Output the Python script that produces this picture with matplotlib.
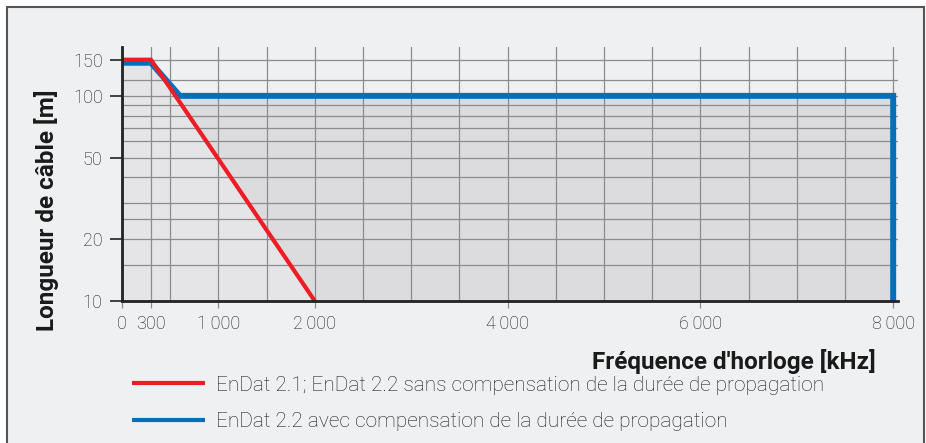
import numpy as np
import matplotlib
matplotlib.use('Agg')
from matplotlib import pyplot as plt
from matplotlib import ticker
from matplotlib.patches import Rectangle

plt.rcParams['font.family'] = ['Roboto', 'DejaVu Sans']

# data
red_x = [0, 300, 2000]
red_y = [150, 150, 10]
blue_x = [0, 300, 600, 8000, 8000]
blue_y = [145, 145, 100, 100, 10]

xticks = [0, 300, 1000, 2000, 4000, 6000, 8000]
xticklabels = ['0', '300', '1\u2009000', '2\u2009000', '4\u2009000', '6\u2009000', '8\u2009000']
xgrid = [500, 1500, 2500, 3000, 3500, 4500, 5000, 5500, 6500, 7000, 7500]
yticks = [10, 20, 50, 100, 150]
ygrid = [15, 25, 30, 40, 60, 70, 80, 90, 120]

red_label = 'EnDat 2.1; EnDat 2.2 sans compensation de la durée de propagation'
blue_label = 'EnDat 2.2 avec compensation de la durée de propagation'

c_red = '#ee1c25'
c_blue = '#0070bb'
c_bg = '#eff0f2'
c_grid = '#8c8c8c'
c_txt = '#1a1a1a'

fig = plt.figure(figsize=(9.26, 4.43), dpi=100, facecolor='white')

# panel frame
fig.patches.append(Rectangle((7 / 926, -0.05), 917 / 926, 1.05 - 7 / 443,
                             transform=fig.transFigure, facecolor=c_bg,
                             edgecolor='#555555', linewidth=1.5, zorder=-1))

ax = fig.add_axes([122 / 926, 1 - 301 / 443, 776 / 926, 254 / 443])
ax.set_zorder(1)
ax.set_facecolor('none')
ax.set_yscale('log')
ax.set_xlim(0, 8050)
ax.set_ylim(10, 173)

# shaded areas
ax.fill_between(blue_x, blue_y, 10, color='#dcdcde', lw=0, zorder=0.2)
ax.fill_between(red_x, red_y, 10, color='#e5e5e7', lw=0, zorder=0.3)

ax.plot(blue_x, blue_y, color=c_blue, lw=4.3, solid_joinstyle='miter',
        solid_capstyle='butt', zorder=3, label=blue_label)
ax.plot(red_x, red_y, color=c_red, lw=3, solid_joinstyle='miter',
        solid_capstyle='butt', zorder=4, label=red_label)

# ticks / grid
ax.set_xticks(xticks)
ax.set_xticklabels(xticklabels)
ax.set_xticks(xgrid, minor=True)
ax.set_yticks(yticks)
ax.set_yticklabels([str(v) for v in yticks])
ax.set_yticks(ygrid, minor=True)
ax.yaxis.set_minor_formatter(ticker.NullFormatter())

ax.set_axisbelow(True)
ax.grid(which='both', color=c_grid, lw=0.9)
ax.tick_params(axis='x', which='major', length=5, width=0.9, color=c_grid,
               pad=5, labelsize=13, labelcolor=c_txt)
ax.tick_params(axis='y', which='major', length=9, width=1.2, color='#222222',
               pad=5, labelsize=13, labelcolor=c_txt)
ax.tick_params(which='minor', length=0)
for lbl in ax.get_xticklabels() + ax.get_yticklabels():
    lbl.set_fontweight('light')

for s in ['top', 'right']:
    ax.spines[s].set_visible(False)
for s in ['left', 'bottom']:
    ax.spines[s].set_linewidth(2)
    ax.spines[s].set_color('#222222')
    ax.spines[s].set_zorder(5)

fig.text(47 / 926, 1 - 210 / 443, 'Longueur de câble [m]', rotation=90,
         ha='center', va='center', fontsize=17.5, fontweight='bold', color=c_txt)
fig.text(876 / 926, 1 - 362 / 443, "Fréquence d'horloge [kHz]",
         ha='right', va='center', fontsize=17.5, fontweight='bold', color=c_txt)

h, l = ax.get_legend_handles_labels()
leg = fig.legend(h[::-1], l[::-1], loc='upper left',
                 bbox_to_anchor=(113 / 926, 1 - 357 / 443),
                 frameon=False, handlelength=3.5,
                 handletextpad=0.55, labelspacing=0.84, borderpad=0.4,
                 prop={'weight': 'light', 'size': 15})
for line in leg.get_lines():
    line.set_linewidth(3)
for t in leg.get_texts():
    t.set_color(c_txt)

fig.savefig('out.png', dpi=100, facecolor='white')
plt.close(fig)
